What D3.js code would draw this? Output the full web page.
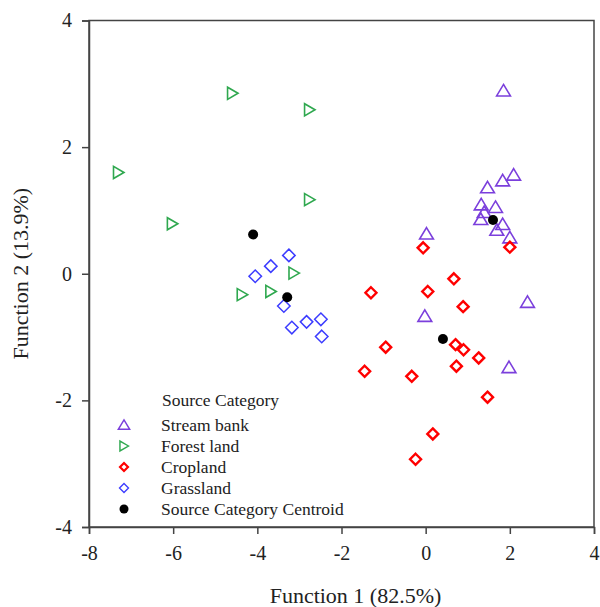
<!DOCTYPE html>
<html>
<head>
<meta charset="utf-8">
<script src="https://cdn.jsdelivr.net/npm/d3@7/dist/d3.min.js"></script>
<style>
  body { margin: 0; background: #fff; }
  svg text { font-family: "Liberation Serif", "Times New Roman", serif; fill: #222; }
</style>
</head>
<body>
<div id="chart"></div>
<script>
// discriminant scores
const streamBank = [
  [1.85, 2.89], [2.09, 1.56], [1.83, 1.47], [1.47, 1.36], [1.32, 1.09],
  [1.66, 1.05], [1.39, 0.97], [1.31, 0.86], [1.83, 0.78], [1.69, 0.69],
  [2.00, 0.57], [0.02, 0.63], [2.42, -0.45], [-0.02, -0.67], [1.98, -1.48]
];
const forestLand = [
  [-7.30, 1.60], [-6.02, 0.79], [-4.59, 2.85], [-2.76, 2.59], [-2.76, 1.17],
  [-3.13, 0.01], [-4.36, -0.33], [-3.68, -0.28]
];
const cropland = [
  [-0.06, 0.41], [2.00, 0.42], [0.67, -0.08], [-1.30, -0.30], [0.05, -0.28],
  [0.89, -0.52], [-0.95, -1.16], [0.71, -1.12], [0.90, -1.20], [1.26, -1.33],
  [0.73, -1.46], [-1.45, -1.54], [-0.33, -1.62], [1.47, -1.95], [0.17, -2.53],
  [-0.24, -2.93]
];
const grassland = [
  [-3.25, 0.29], [-3.68, 0.12], [-4.05, -0.04], [-3.37, -0.51], [-3.18, -0.85],
  [-2.83, -0.76], [-2.49, -0.72], [-2.47, -0.99]
];
const centroids = [
  [-4.10, 0.62], [-3.29, -0.37], [1.60, 0.85], [0.41, -1.03]
];

const xTicks = [-8, -6, -4, -2, 0, 2, 4];
const yTicks = [-4, -2, 0, 2, 4];
const legendLabels = ["Stream bank", "Forest land", "Cropland", "Grassland", "Source Category Centroid"];

const width = 600, height = 607;
const margin = {top: 20.5, right: 6, bottom: 80, left: 89};

const svg = d3.select("#chart").append("svg")
    .attr("width", width)
    .attr("height", height);

const x = d3.scaleLinear().domain([-8, 4]).range([margin.left, width - margin.right]);
const y = d3.scaleLinear().domain([-4, 4]).range([height - margin.bottom, margin.top]);

// frame
svg.append("rect")
    .attr("x", x(-8)).attr("y", y(4))
    .attr("width", x(4) - x(-8)).attr("height", y(-4) - y(4))
    .attr("fill", "none").attr("stroke", "#444").attr("stroke-width", 1.5);

const xAxis = svg.append("g")
    .attr("transform", `translate(0,${y(-4)})`)
    .call(d3.axisBottom(x).tickValues(xTicks).tickSize(7).tickPadding(12).tickFormat(d3.format("d")));
const yAxis = svg.append("g")
    .attr("transform", `translate(${x(-8)},0)`)
    .call(d3.axisLeft(y).tickValues(yTicks).tickSize(7).tickPadding(10).tickFormat(d3.format("d")));

[xAxis, yAxis].forEach(a => {
    a.select(".domain").attr("stroke", "#444").attr("stroke-width", 1.5);
    a.selectAll(".tick line").attr("stroke", "#444").attr("stroke-width", 1.5);
    a.selectAll("text").attr("font-size", 20).attr("fill", "#222")
        .attr("font-family", "Liberation Serif, Times New Roman, serif")
        .text(d => d < 0 ? "-" + Math.abs(d) : d);
});

svg.append("text")
    .attr("x", (x(-8) + x(4)) / 2 + 14).attr("y", 603)
    .attr("text-anchor", "middle").attr("font-size", 22)
    .text("Function 1 (82.5%)");

svg.append("text")
    .attr("transform", `translate(28,${(y(4) + y(-4)) / 2}) rotate(-90)`)
    .attr("text-anchor", "middle").attr("font-size", 22)
    .text("Function 2 (13.9%)");

// marker shapes
const triUp = s => `M0,${-s * 0.55}L${s * 0.6},${s * 0.45}L${-s * 0.6},${s * 0.45}Z`;
const triRight = s => `M${s * 0.5},0L${-s * 0.45},${-s * 0.55}L${-s * 0.45},${s * 0.55}Z`;
const diamond = s => `M0,${-s / 2}L${s / 2},0L0,${s / 2}L${-s / 2},0Z`;

const series = [
    {data: streamBank, path: triUp(11.5), color: "#7b3fdc", sw: 1.6},
    {data: forestLand, path: triRight(11), color: "#2fa84f", sw: 1.6},
    {data: cropland, path: diamond(11), color: "#ff0000", sw: 2.4},
    {data: grassland, path: diamond(12.5), color: "#3c3cff", sw: 1.5}
];

series.forEach(s => {
    svg.append("g").selectAll("path")
        .data(s.data)
        .join("path")
        .attr("d", s.path)
        .attr("transform", d => `translate(${x(d[0])},${y(d[1])})`)
        .attr("fill", "none")
        .attr("stroke", s.color)
        .attr("stroke-width", s.sw);
});

svg.append("g").selectAll("circle")
    .data(centroids)
    .join("circle")
    .attr("cx", d => x(d[0])).attr("cy", d => y(d[1]))
    .attr("r", 5).attr("fill", "#000");

// legend
const lg = svg.append("g").attr("transform", "translate(124,0)");
lg.append("text").attr("x", 38).attr("y", 406).attr("font-size", 17.5).text("Source Category");
const rowY = [425, 446, 467, 488, 509];
legendLabels.forEach((lab, i) => {
    if (i < 4) {
        const s = series[i];
        const sc = i === 2 ? diamond(8) : i === 3 ? diamond(9) : i === 0 ? triUp(9.5) : triRight(9);
        lg.append("path").attr("d", sc)
            .attr("transform", `translate(0,${rowY[i]})`)
            .attr("fill", "none").attr("stroke", s.color).attr("stroke-width", s.sw * 0.9);
    } else {
        lg.append("circle").attr("cx", 0).attr("cy", rowY[i]).attr("r", 4.5).attr("fill", "#000");
    }
    lg.append("text").attr("x", 37).attr("y", rowY[i] + 6).attr("font-size", 17.5).text(lab);
});
</script>
</body>
</html>
